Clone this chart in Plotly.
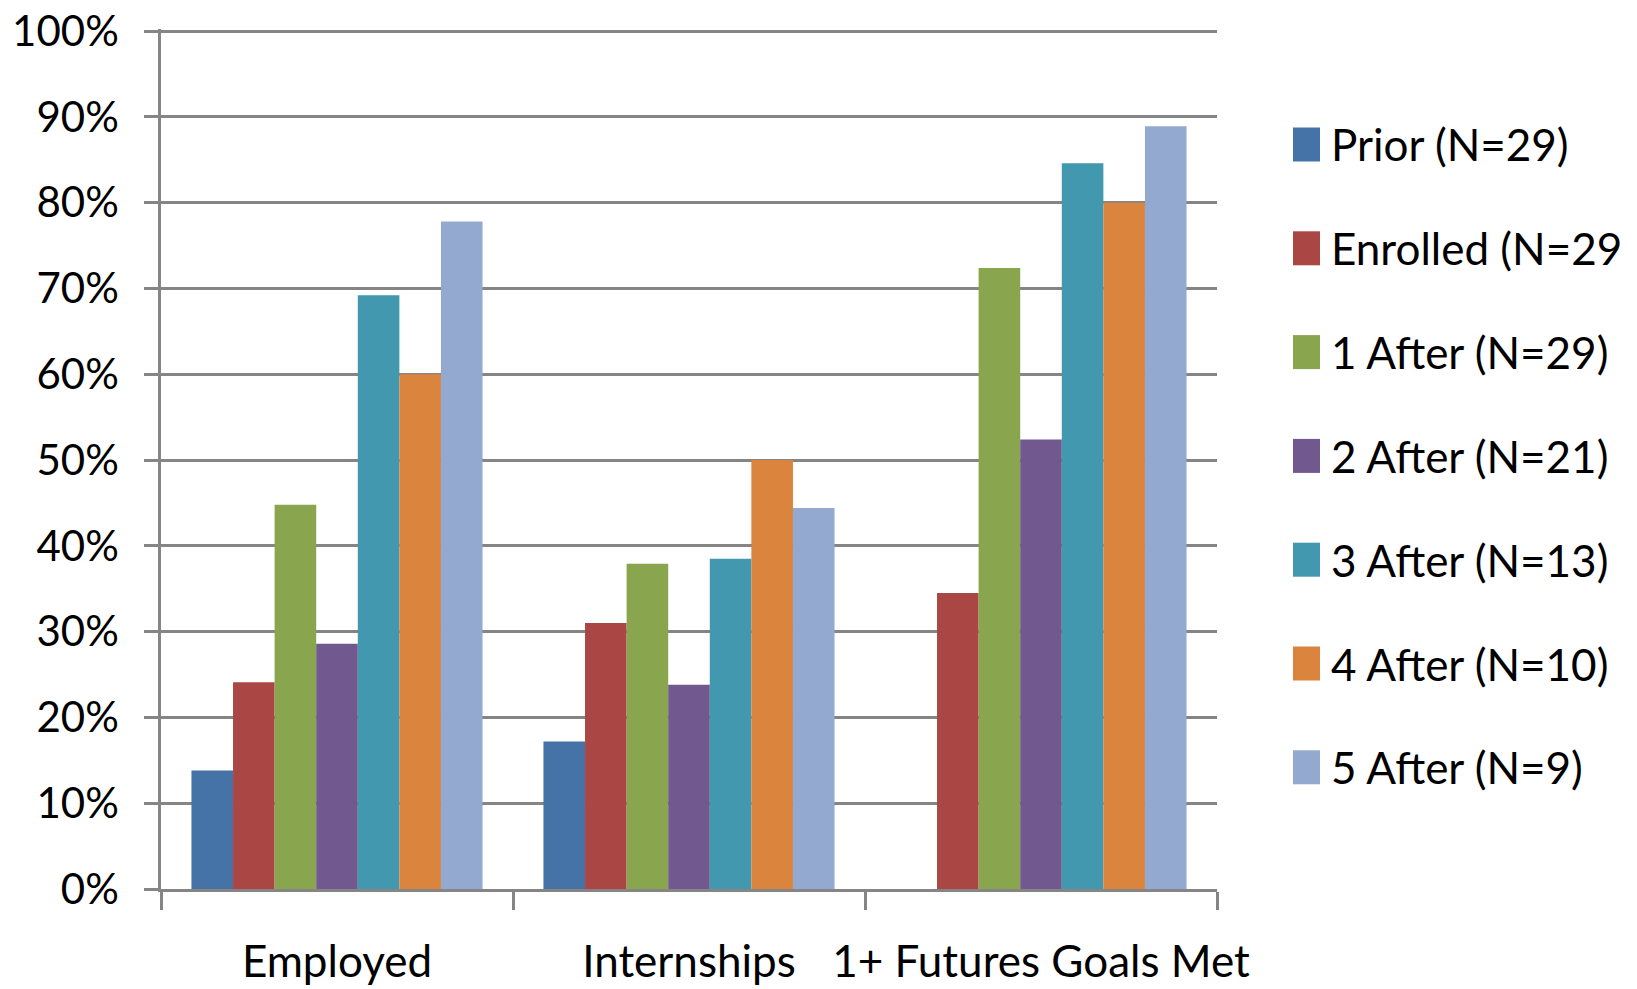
import plotly.graph_objects as go

categories = ["Employed", "Internships", "1+ Futures Goals Met"]
series_names = ["Prior (N=29)", "Enrolled (N=29", "1 After (N=29)", "2 After (N=21)",
                "3 After (N=13)", "4 After (N=10)", "5 After (N=9)"]
prior = [13.8, 17.2, 0.0]
enrolled = [24.1, 31.0, 34.5]
after1 = [44.8, 37.9, 72.4]
after2 = [28.6, 23.8, 52.4]
after3 = [69.2, 38.5, 84.6]
after4 = [60.0, 50.0, 80.0]
after5 = [77.8, 44.4, 88.9]
series_values = [prior, enrolled, after1, after2, after3, after4, after5]
colors = ["#4572A7", "#AA4643", "#89A54E", "#71588F", "#4198AF", "#DB843D", "#93A9CF"]
y_ticks = [0, 10, 20, 30, 40, 50, 60, 70, 80, 90, 100]
y_tick_labels = [f"{v}%" for v in y_ticks]

W, H = 1637, 989
ml, mr, mt, mb = 161, 420, 29, 100
pw, ph = W - ml - mr, H - mt - mb
FONT = "Lato"
FS = 44
GRID = "#858585"

fig = go.Figure()
for name, vals, col in zip(series_names, series_values, colors):
    fig.add_trace(go.Bar(x=categories, y=vals, name=name, marker_color=col,
                         marker_line_width=0, showlegend=False))

fig.update_layout(
    width=W, height=H,
    margin=dict(l=ml, r=mr, t=mt, b=mb, pad=0, autoexpand=False),
    paper_bgcolor="white", plot_bgcolor="white",
    barmode="group", bargap=0.173, bargroupgap=0,
    font=dict(family=FONT, size=FS, color="black"),
    xaxis=dict(showline=True, linecolor=GRID, linewidth=2.5, ticks="outside",
               tickson="boundaries", ticklen=18, tickwidth=2.5, tickcolor=GRID,
               showgrid=False, ticklabelstandoff=32, tickangle=0, automargin=False,
               tickfont=dict(family=FONT, size=FS, color="black")),
    yaxis=dict(range=[0, 100.25], tickvals=y_ticks, ticktext=y_tick_labels,
               showline=True, linecolor=GRID, linewidth=2.5, ticks="outside",
               ticklen=14, tickwidth=2.5, tickcolor=GRID, showgrid=True,
               gridcolor=GRID, gridwidth=2.5, zeroline=False, ticklabelstandoff=17,
               automargin=False,
               tickfont=dict(family=FONT, size=42, color="black")),
)

# legend drawn from the series names / colours
sq_x0, sq_x1 = 1293, 1320
txt_x = 1329
first_c, step = 144.5, 103.8
for i, (name, col) in enumerate(zip(series_names, colors)):
    cy = first_c + i * step
    fig.add_shape(type="rect", xref="paper", yref="paper",
                  x0=(sq_x0 - ml) / pw, x1=(sq_x1 - ml) / pw,
                  y0=(H - mb - (cy + 17)) / ph, y1=(H - mb - (cy - 17)) / ph,
                  fillcolor=col, line_width=0)
    fig.add_annotation(xref="paper", yref="paper", x=(txt_x - ml) / pw,
                       y=(H - mb - cy) / ph, text=name, showarrow=False,
                       xanchor="left", yanchor="middle",
                       font=dict(family=FONT, size=FS, color="black"))

fig.write_html("out.html", config={"displayModeBar": False},
               post_script="document.body.style.margin='0';")
